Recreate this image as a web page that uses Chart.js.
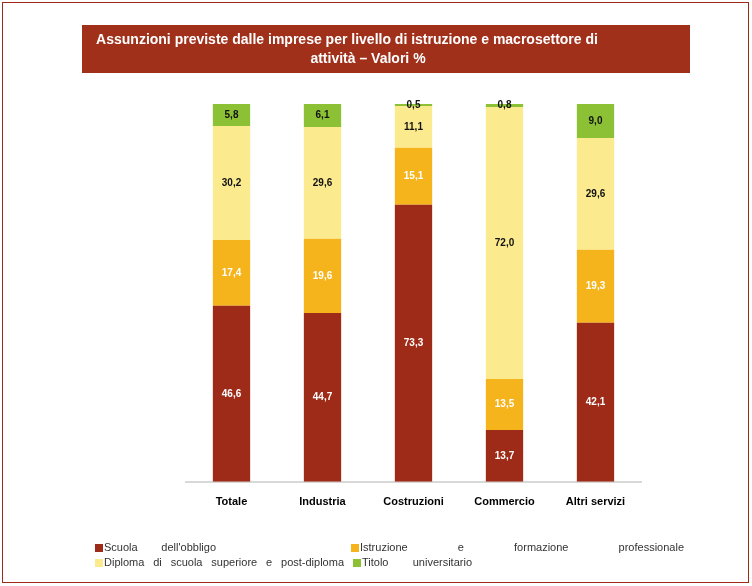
<!DOCTYPE html>
<html>
<head>
<meta charset="utf-8">
<script src="https://cdn.jsdelivr.net/npm/chart.js@4/dist/chart.umd.min.js"></script>
<style>
html,body{margin:0;padding:0;background:#fff;}
#wrap{width:752px;height:586px;}
</style>
</head>
<body>
<div id="wrap"><canvas id="c" width="752" height="586"></canvas></div>
<script>
const categories = ["Totale", "Industria", "Costruzioni", "Commercio", "Altri servizi"];
const seriesNames = ["Scuola dell'obbligo", "Istruzione e formazione professionale", "Diploma di scuola superiore e post-diploma", "Titolo universitario"];
const scuolaObbligo = [46.6, 44.7, 73.3, 13.7, 42.1];
const istruzioneProf = [17.4, 19.6, 15.1, 13.5, 19.3];
const diploma = [30.2, 29.6, 11.1, 72.0, 29.6];
const universitario = [5.8, 6.1, 0.5, 0.8, 9.0];
const titleLines = ["Assunzioni previste dalle imprese per livello di istruzione e macrosettore di", "attività – Valori %"];

const colors = ["#9E2B17", "#F5B31C", "#FBEA8E", "#8CC136"];
const labelColors = ["#ffffff", "#ffffff", "#111111", "#111111"];
const seriesData = [scuolaObbligo, istruzioneProf, diploma, universitario];

const frame = {
  id: 'frame',
  beforeDraw(chart) {
    const ctx = chart.ctx;
    ctx.save();
    ctx.fillStyle = '#fff';
    ctx.fillRect(0, 0, 752, 586);
    ctx.strokeStyle = '#9E2B17';
    ctx.lineWidth = 1;
    ctx.strokeRect(2.5, 2.5, 746, 580);
    ctx.fillStyle = '#A1301B';
    ctx.fillRect(82, 25, 608, 48);
    ctx.fillStyle = '#ffffff';
    ctx.font = 'bold 14px "Liberation Sans", Arial, sans-serif';
    ctx.textAlign = 'center';
    ctx.textBaseline = 'middle';
    ctx.fillText(titleLines[0], 347, 40);
    ctx.fillText(titleLines[1], 368, 59);
    ctx.restore();
  },
  afterDatasetsDraw(chart) {
    const ctx = chart.ctx;
    ctx.save();
    ctx.font = 'bold 10px "Liberation Sans", Arial, sans-serif';
    ctx.textAlign = 'center';
    ctx.textBaseline = 'middle';
    chart.data.datasets.forEach((ds, di) => {
      const meta = chart.getDatasetMeta(di);
      meta.data.forEach((bar, i) => {
        const v = ds.data[i];
        const y = (bar.y + bar.base) / 2;
        ctx.fillStyle = labelColors[di];
        ctx.fillText(v.toFixed(1).replace('.', ','), bar.x, Math.max(y, 101));
      });
    });
    ctx.restore();
  },
  afterDraw(chart) {
    const ctx = chart.ctx;
    ctx.save();
    ctx.font = '11px "Liberation Sans", Arial, sans-serif';
    ctx.textBaseline = 'middle';
    const items = [
      {x: 95, y: 548, w: 112},
      {x: 351, y: 548, w: 324},
      {x: 95, y: 563, w: 240},
      {x: 353, y: 563, w: 110}
    ];
    chart.data.datasets.forEach((ds, di) => {
      const it = items[di];
      ctx.fillStyle = ds.backgroundColor;
      ctx.fillRect(it.x, it.y - 4, 8, 8);
      ctx.fillStyle = '#333';
      const words = ds.label.split(' ');
      const tx = it.x + 9;
      const widths = words.map(w => ctx.measureText(w).width);
      const total = widths.reduce((a, b) => a + b, 0);
      const gap = words.length > 1 ? Math.max(3, (it.w - total) / (words.length - 1)) : 0;
      let x = tx;
      words.forEach((w, k) => { ctx.fillText(w, x, it.y); x += widths[k] + gap; });
    });
    ctx.restore();
  }
};

new Chart(document.getElementById('c'), {
  type: 'bar',
  data: {
    labels: categories,
    datasets: seriesNames.map((n, k) => ({
      label: n,
      data: seriesData[k],
      backgroundColor: colors[k],
      borderWidth: 0,
      categoryPercentage: 1,
      barPercentage: 0.41
    }))
  },
  options: {
    responsive: false,
    animation: false,
    devicePixelRatio: 1,
    layout: { padding: { left: 186, right: 111, top: 104, bottom: 71 } },
    plugins: { legend: { display: false }, title: { display: false }, tooltip: { enabled: false } },
    scales: {
      x: {
        stacked: true,
        grid: { display: false },
        border: { display: true, color: '#d8d8d8', width: 2 },
        ticks: { color: '#000', font: { family: '"Liberation Sans", Arial, sans-serif', size: 11, weight: 'bold' }, padding: 6 }
      },
      y: { stacked: true, display: false, min: 0, max: 100 }
    }
  },
  plugins: [frame]
});
</script>
</body>
</html>
